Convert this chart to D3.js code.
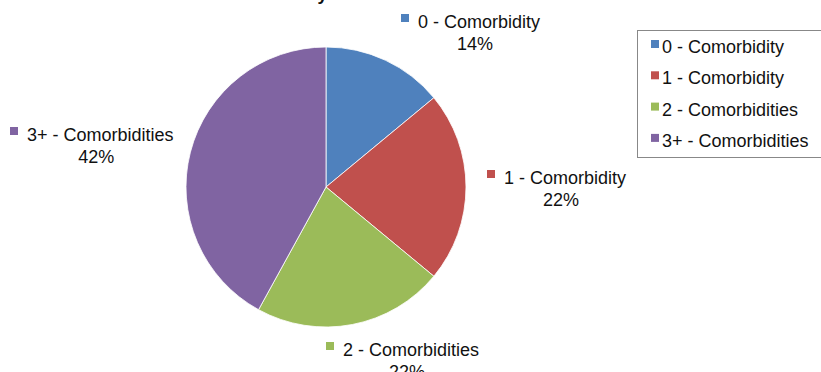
<!DOCTYPE html>
<html>
<head>
<meta charset="utf-8">
<script src="https://cdn.jsdelivr.net/npm/d3@7"></script>
<style>
  body { margin: 0; background: #fff; overflow: hidden; }
  text { font-family: "Liberation Sans", Arial, sans-serif; fill: #111; }
</style>
</head>
<body>
<div id="chart"></div>
<script>
const categories = ['0 - Comorbidity', '1 - Comorbidity', '2 - Comorbidities', '3+ - Comorbidities']
const values = [14, 22, 22, 42]
const colors = ['#4F81BD', '#C0504D', '#9BBB59', '#8064A2']
const titleText = 'Patients by Number of Comorbidities'

// label anchors (marker left x, first line baseline y) for each slice label
const labelPos = [[401, 28], [487, 184], [326, 356], [10, 141]]

const width = 821, height = 372
const center = {x: 326, y: 187}
const radius = 140

const svg = d3.select('#chart')
  .append('svg')
  .attr('width', width)
  .attr('height', height)

// title sits mostly above the visible area, like the cropped original
svg.append('text')
  .attr('x', 390)
  .attr('y', 0)
  .attr('text-anchor', 'middle')
  .style('font-size', '18px')
  .style('font-weight', 'bold')
  .text(titleText)

const color = d3.scaleOrdinal().domain(categories).range(colors)

const pie = d3.pie().sort(null).value((d) => d.value)
const arc = d3.arc().innerRadius(0).outerRadius(radius)

const data = categories.map((c, i) => ({ name: c, value: values[i] }))
const total = d3.sum(values)

const g = svg.append('g').attr('transform', `translate(${center.x},${center.y})`)
g.selectAll('path')
  .data(pie(data))
  .enter().append('path')
  .attr('d', arc)
  .attr('fill', (d) => color(d.data.name))
  .attr('stroke', '#fff')
  .attr('stroke-width', 0.8)

// data labels
const labels = svg.selectAll('.lbl')
  .data(data)
  .enter().append('g')
  .classed('lbl', true)
  .attr('transform', (d, i) => `translate(${labelPos[i][0]},${labelPos[i][1]})`)

labels.append('rect')
  .attr('x', 0).attr('y', -14)
  .attr('width', 8).attr('height', 8)
  .attr('fill', (d) => color(d.name))

labels.append('text')
  .attr('x', 17)
  .style('font-size', '18px')
  .text((d) => d.name)

labels.each(function (d) {
  const sel = d3.select(this)
  const w = sel.select('text').node().getComputedTextLength()
  sel.append('text')
    .attr('x', (17 + 17 + w) / 2 - 4)
    .attr('y', 22)
    .attr('text-anchor', 'middle')
    .style('font-size', '18px')
    .text(Math.round(d.value / total * 100) + '%')
})

// legend
const legend = svg.append('g').attr('transform', 'translate(637,30)')
legend.append('rect')
  .attr('x', 0.5).attr('y', 0.5)
  .attr('width', 192).attr('height', 127)
  .attr('fill', '#fff')
  .attr('stroke', '#888')
  .attr('stroke-width', 1)

const items = legend.selectAll('.item')
  .data(categories)
  .enter().append('g')
  .attr('transform', (d, i) => `translate(14,${23 + i * 31.3})`)

items.append('rect')
  .attr('x', 0).attr('y', -13)
  .attr('width', 8).attr('height', 8)
  .attr('fill', (d) => color(d))

items.append('text')
  .attr('x', 11)
  .style('font-size', '18px')
  .text((d) => d)
</script>
</body>
</html>
